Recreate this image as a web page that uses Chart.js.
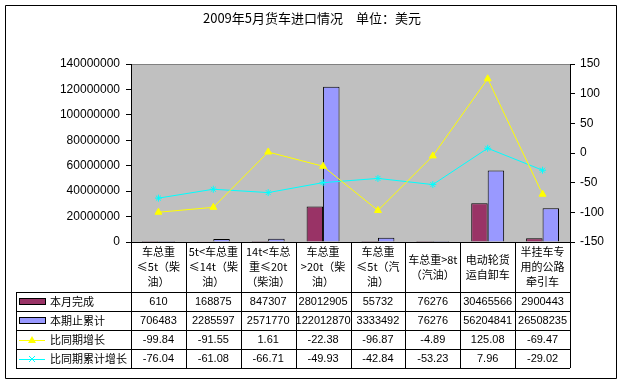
<!DOCTYPE html>
<html>
<head>
<meta charset="utf-8">
<script src="https://cdn.jsdelivr.net/npm/chart.js@4"></script>
<style>
  html, body { margin: 0; padding: 0; background: #fff; }
  #wrap { width: 624px; height: 385px; }
</style>
</head>
<body>
<div id="wrap"><canvas id="myChart" width="624" height="385"></canvas></div>
<script>
const categorias = [
  ['车总重', '≤5t（柴', '油）'],
  ['5t<车总重', '≤14t（柴', '油）'],
  ['14t<车总', '重≤20t', '（柴油）'],
  ['车总重', '>20t（柴', '油）'],
  ['车总重', '≤5t（汽', '油）'],
  ['车总重>8t', '（汽油）'],
  ['电动轮货', '运自卸车'],
  ['半挂车专', '用的公路', '牵引车']
];
const benyue = [610, 168875, 847307, 28012905, 55732, 76276, 30465566, 2900443];
const leiji = [706483, 2285597, 2571770, 122012870, 3333492, 76276, 56204841, 26508235];
const tongbi = [-99.84, -91.55, 1.61, -22.38, -96.87, -4.89, 125.08, -69.47];
const leijiTongbi = [-76.04, -61.08, -66.71, -49.93, -42.84, -53.23, 7.96, -29.02];
const series = ['本月完成', '本期止累计', '比同期增长', '比同期累计增长'];

const CJK = '"Noto Sans CJK SC", "Liberation Sans", sans-serif';
const NUM = '"Liberation Sans", Arial, sans-serif';

// table under the plot (category row + 4 data rows)
const tabla = {
  id: 'tabla',
  beforeDraw(chart) {
    const c = chart.ctx, a = chart.chartArea;
    c.save();
    c.fillStyle = '#fff';
    c.fillRect(0, 0, chart.width, chart.height);
    c.fillStyle = '#C0C0C0';
    c.fillRect(a.left, a.top, a.right - a.left, a.bottom - a.top);
    c.strokeStyle = '#808080';
    c.lineWidth = 1;
    c.beginPath();
    c.moveTo(a.left, a.top + 0.5);
    c.lineTo(a.right, a.top + 0.5);
    c.stroke();
    c.restore();
  },
  afterDraw(chart) {
    const c = chart.ctx, a = chart.chartArea;
    const n = categorias.length;
    const colW = (a.right - a.left) / n;
    const catBottom = a.bottom + 50;
    const rowH = 19;
    const tLeft = 16;
    const tBottom = catBottom + rowH * 4;
    c.save();
    c.strokeStyle = '#000';
    c.lineWidth = 1;
    c.beginPath();
    // outer border
    c.rect(5.5, 5.5, 611, 373);
    // top of table
    c.moveTo(a.left, Math.round(a.bottom) + 0.5);
    c.lineTo(a.right, Math.round(a.bottom) + 0.5);
    for (let r = 0; r <= 4; r++) {
      const y = Math.round(catBottom + r * rowH) + 0.5;
      c.moveTo(tLeft, y);
      c.lineTo(a.right, y);
    }
    for (let i = 0; i <= n; i++) {
      const x = Math.round(a.left + i * colW) + 0.5;
      c.moveTo(x, a.bottom);
      c.lineTo(x, tBottom);
    }
    c.moveTo(tLeft + 0.5, catBottom);
    c.lineTo(tLeft + 0.5, tBottom);
    c.stroke();

    // category labels
    c.fillStyle = '#000';
    c.textAlign = 'center';
    c.textBaseline = 'middle';
    c.font = '11px ' + CJK;
    categorias.forEach((lines, i) => {
      const cx = a.left + (i + 0.5) * colW;
      const cy = (a.bottom + catBottom) / 2;
      lines.forEach((t, k) => {
        c.fillText(t, cx, cy + (k - (lines.length - 1) / 2) * 15);
      });
    });

    // data rows
    const filas = [benyue, leiji, tongbi, leijiTongbi];
    filas.forEach((vals, r) => {
      const cy = catBottom + (r + 0.5) * rowH + 0.5;
      c.font = '11px ' + NUM;
      c.textAlign = 'center';
      vals.forEach((v, i) => {
        c.fillText(String(v), a.left + (i + 0.5) * colW, cy);
      });
      // legend key
      const ds = chart.data.datasets[r];
      if (r < 2) {
        c.fillStyle = ds.backgroundColor;
        c.fillRect(19.5, cy - 3.5, 26, 6);
        c.strokeRect(19.5, cy - 3.5, 26, 6);
      } else {
        c.strokeStyle = ds.borderColor;
        c.beginPath();
        c.moveTo(19, Math.round(cy) + 0.5);
        c.lineTo(45, Math.round(cy) + 0.5);
        c.stroke();
        if (r === 2) {
          c.fillStyle = ds.borderColor;
          c.beginPath();
          c.moveTo(32, cy - 4);
          c.lineTo(36, cy + 3);
          c.lineTo(28, cy + 3);
          c.closePath();
          c.fill();
        } else {
          c.beginPath();
          c.moveTo(29, cy - 3); c.lineTo(35, cy + 3);
          c.moveTo(35, cy - 3); c.lineTo(29, cy + 3);
          c.stroke();
        }
        c.strokeStyle = '#000';
      }
      c.fillStyle = '#000';
      c.textAlign = 'left';
      c.font = '11px ' + CJK;
      c.fillText(series[r], 50, cy);
    });
    c.restore();
  }
};

const ctx = document.getElementById('myChart').getContext('2d');

new Chart(ctx, {
  type: 'bar',
  data: {
    labels: categorias.map(l => l.join('')),
    datasets: [
      {
        label: series[0],
        data: benyue,
        yAxisID: 'y',
        backgroundColor: '#993366',
        borderColor: '#000',
        borderWidth: 1,
        borderSkipped: 'bottom',
        barPercentage: 1,
        categoryPercentage: 0.6,
        order: 2
      },
      {
        label: series[1],
        data: leiji,
        yAxisID: 'y',
        backgroundColor: '#9999FF',
        borderColor: '#000',
        borderWidth: 1,
        borderSkipped: 'bottom',
        barPercentage: 1,
        categoryPercentage: 0.6,
        order: 2
      },
      {
        type: 'line',
        label: series[2],
        data: tongbi,
        yAxisID: 'y1',
        borderColor: '#FFFF00',
        backgroundColor: '#FFFF00',
        borderWidth: 1,
        pointStyle: 'triangle',
        pointRadius: 4,
        pointBorderWidth: 1,
        tension: 0,
        order: 0
      },
      {
        type: 'line',
        label: series[3],
        data: leijiTongbi,
        yAxisID: 'y1',
        borderColor: '#00FFFF',
        backgroundColor: '#00FFFF',
        borderWidth: 1,
        pointStyle: 'star',
        pointRadius: 3.5,
        pointBorderWidth: 1,
        tension: 0,
        order: 1
      }
    ]
  },
  options: {
    responsive: false,
    animation: false,
    layout: { padding: { left: 0, right: 0, top: 0, bottom: 93 } },
    plugins: {
      legend: { display: false },
      tooltip: { enabled: false },
      title: {
        display: true,
        text: '2009年5月货车进口情况　单位：美元',
        color: '#000',
        font: { family: CJK, size: 13, weight: 'normal' },
        padding: { top: 10, bottom: 38.4 }
      }
    },
    scales: {
      x: {
        offset: true,
        grid: { display: false },
        border: { display: false },
        ticks: { display: false },
        afterFit(s) { s.height = 50; }
      },
      y: {
        position: 'left',
        min: 0,
        max: 140000000,
        grid: { drawOnChartArea: false, color: '#000', tickLength: 5 },
        border: { display: true, color: '#000' },
        ticks: {
          stepSize: 20000000,
          color: '#000',
          padding: 6,
          font: { family: NUM, size: 12 },
          callback: v => String(v)
        },
        afterFit(s) { s.width = 131; }
      },
      y1: {
        position: 'right',
        min: -150,
        max: 150,
        grid: { drawOnChartArea: false, color: '#000', tickLength: 5 },
        border: { display: true, color: '#000' },
        ticks: {
          stepSize: 50,
          color: '#000',
          padding: 5,
          font: { family: NUM, size: 12 }
        },
        afterFit(s) { s.width = 54; }
      }
    }
  },
  plugins: [tabla]
});
</script>
</body>
</html>
